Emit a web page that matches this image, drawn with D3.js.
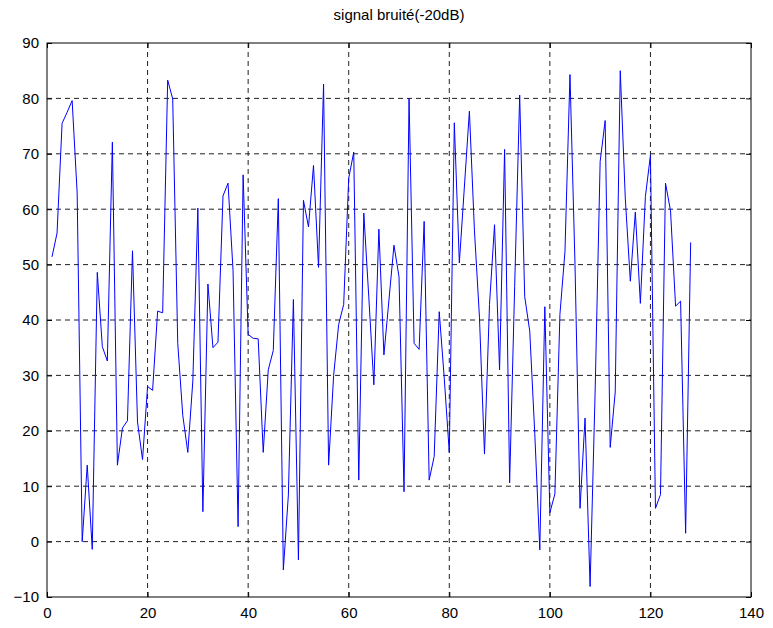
<!DOCTYPE html>
<html>
<head>
<meta charset="utf-8">
<script src="https://cdn.jsdelivr.net/npm/d3@7"></script>
<style>
  body { margin: 0; background: #fff; }
  svg { display: block; font-family: "Liberation Sans", Arial, sans-serif; }
</style>
</head>
<body>
<div id="chart"></div>
<script>
// noisy signal values, sample 1..128
const signal = [
  51.4, 55.7, 75.5, 77.5, 79.6, 62.9, 0, 13.8, -1.4, 48.6,
  35.2, 32.6, 72.1, 13.8, 20.5, 21.8, 52.5, 21.6, 14.8, 28.0,
  27.3, 41.6, 41.3, 83.3, 79.9, 35.8, 22.8, 16.1, 29, 60.2,
  5.4, 46.5, 35.0, 36.0, 62.4, 64.7, 48.9, 2.7, 66.2, 37.4,
  36.7, 36.6, 16.1, 31, 34.5, 61.9, -5.1, 8.4, 43.7, -3.3,
  61.6, 56.8, 67.9, 49.5, 82.6, 13.8, 30, 39.2, 42.8, 65.6,
  70.3, 11.1, 59.3, 44, 28.3, 56.4, 33.7, 43.6, 53.5, 47.8,
  9, 80, 35.8, 34.7, 57.8, 11.1, 15.4, 41.5, 29.5, 16.1,
  75.6, 50.3, 64, 77.7, 56.2, 40.5, 15.8, 42.8, 57.2, 31,
  70.8, 10.6, 46, 80.6, 44.2, 38, 19.5, -1.5, 42.4, 5.2,
  8.6, 41, 52.3, 84.3, 50, 6, 22.3, -8.1, 27, 68.6,
  76, 17, 27, 85, 62, 47, 59.5, 43, 62.3, 69.7,
  6, 8.5, 64.7, 59.7, 42.5, 43.4, 1.5, 54
];
const xTicks = [0, 20, 40, 60, 80, 100, 120, 140];
const yTicks = [-10, 0, 10, 20, 30, 40, 50, 60, 70, 80, 90];
const title = "signal bruité(-20dB)";

const W = 773, H = 628;
const margin = { top: 43, right: 22, bottom: 31, left: 47 };
const width = W - margin.left - margin.right;
const height = H - margin.top - margin.bottom;

const svg = d3.select("#chart").append("svg")
  .attr("width", W)
  .attr("height", H);

const g = svg.append("g")
  .attr("transform", `translate(${margin.left},${margin.top})`);

const x = d3.scaleLinear().domain([0, 140]).range([0, width]);
const y = d3.scaleLinear().domain([-10, 90]).range([height, 0]);

// dashed grid
g.append("g")
  .selectAll("line")
  .data(xTicks.slice(1, -1))
  .join("line")
  .attr("x1", d => x(d)).attr("x2", d => x(d))
  .attr("y1", 0).attr("y2", height)
  .attr("stroke", "#222")
  .attr("stroke-width", 1)
  .attr("stroke-dasharray", "5,4");

g.append("g")
  .selectAll("line")
  .data(yTicks.slice(1, -1))
  .join("line")
  .attr("x1", 0).attr("x2", width)
  .attr("y1", d => y(d)).attr("y2", d => y(d))
  .attr("stroke", "#222")
  .attr("stroke-width", 1)
  .attr("stroke-dasharray", "5,4");

// the signal
const line = d3.line()
  .x((d, i) => x(i + 1))
  .y(d => y(d));

g.append("path")
  .datum(signal)
  .attr("fill", "none")
  .attr("stroke", "#0000ff")
  .attr("stroke-width", 1)
  .attr("d", line);

// axes, ticks pointing inward like matlab
const styleAxis = sel => {
  sel.select(".domain").remove();
  sel.selectAll(".tick line").attr("stroke", "#000");
  sel.selectAll("text").attr("fill", "#000").style("font-size", "15px");
};

g.append("g")
  .attr("transform", `translate(0,${height})`)
  .call(d3.axisBottom(x).tickValues(xTicks).tickSizeInner(-5).tickSizeOuter(0).tickPadding(10))
  .call(styleAxis);

g.append("g")
  .call(d3.axisTop(x).tickValues(xTicks).tickSizeInner(-5).tickSizeOuter(0).tickFormat(""))
  .call(styleAxis);

g.append("g")
  .call(d3.axisLeft(y).tickValues(yTicks).tickSizeInner(-5).tickSizeOuter(0).tickPadding(8))
  .call(styleAxis);

g.append("g")
  .attr("transform", `translate(${width},0)`)
  .call(d3.axisRight(y).tickValues(yTicks).tickSizeInner(-5).tickSizeOuter(0).tickFormat(""))
  .call(styleAxis);

// frame
g.append("rect")
  .attr("width", width)
  .attr("height", height)
  .attr("fill", "none")
  .attr("stroke", "#000")
  .attr("stroke-width", 1);

svg.append("text")
  .attr("x", margin.left + width / 2)
  .attr("y", 20)
  .attr("text-anchor", "middle")
  .style("font-size", "15px")
  .text(title);
</script>
</body>
</html>
